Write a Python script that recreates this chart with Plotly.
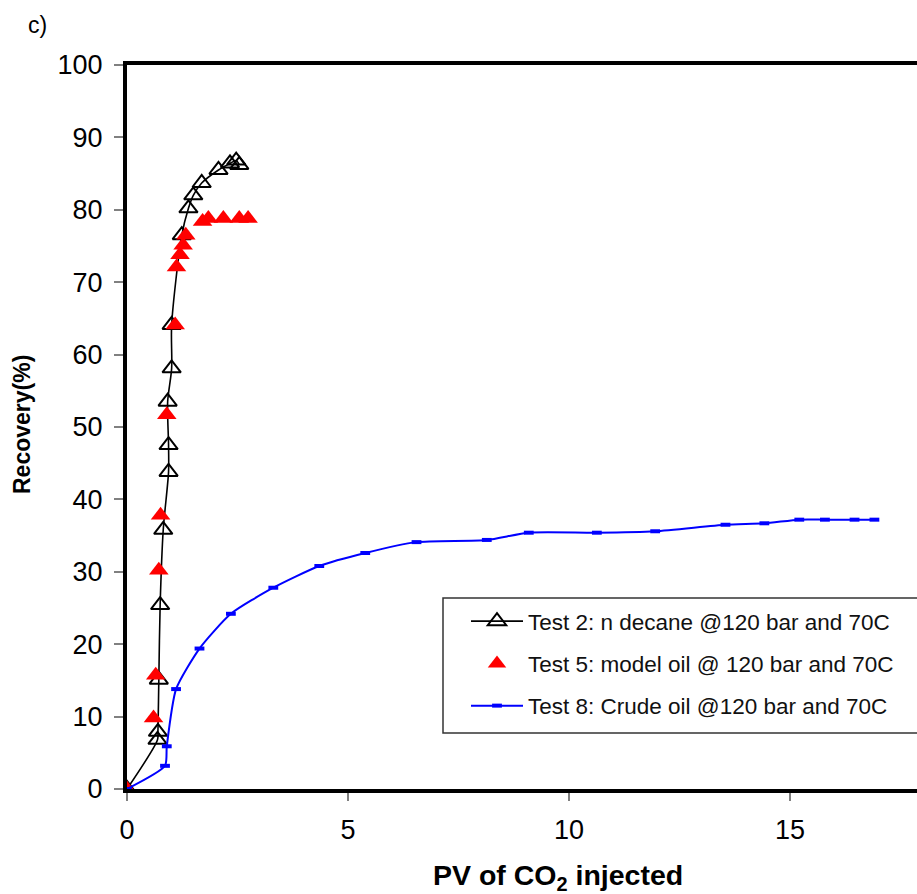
import plotly.graph_objects as go

# Test 2: n-decane at 120 bar and 70C
test2_pv = [0, 0.69, 0.70, 0.72, 0.75, 0.82, 0.94, 0.94, 0.92, 1.01, 1.01,
            1.24, 1.39, 1.50, 1.69, 2.07, 2.33, 2.47, 2.54]
test2_rec = [0, 6.8, 7.9, 15.1, 25.4, 35.8, 43.8, 47.5, 53.5, 58.1, 64.1,
             76.5, 80.2, 82.0, 83.7, 85.5, 86.4, 86.8, 86.2]

# Test 5: model oil at 120 bar and 70C
test5_pv = [0, 0.60, 0.65, 0.72, 0.76, 0.90, 1.09, 1.12, 1.20, 1.27, 1.33,
            1.71, 1.84, 2.18, 2.54, 2.74]
test5_rec = [0, 9.8, 15.7, 30.2, 37.8, 51.7, 64.1, 72.1, 73.8, 75.1, 76.5,
             78.4, 78.8, 78.8, 78.8, 78.8]

# Test 8: crude oil at 120 bar and 70C
test8_pv = [0, 0.86, 0.90, 1.11, 1.64, 2.35, 3.31, 4.35, 5.39, 6.55, 8.14,
            9.09, 10.63, 11.95, 13.54, 14.42, 15.21, 15.79, 16.46, 16.91]
test8_rec = [0, 3.2, 5.9, 13.8, 19.4, 24.2, 27.8, 30.8, 32.6, 34.1, 34.4,
             35.4, 35.4, 35.6, 36.5, 36.7, 37.2, 37.2, 37.2, 37.2]

names = ["Test 2: n decane @120 bar and 70C",
         "Test 5: model oil @ 120 bar and 70C",
         "Test 8: Crude oil @120 bar and 70C"]

x_ticks = [0, 5, 10, 15]
y_ticks = list(range(0, 101, 10))

FONT = "Arial, 'Liberation Sans', sans-serif"

fig = go.Figure()

fig.add_trace(go.Scatter(
    x=test2_pv, y=test2_rec, name=names[0], mode="lines+markers",
    line=dict(color="black", width=1.6, shape="spline", smoothing=0.8),
    marker=dict(symbol="triangle-up-open", size=16, color="black",
                line=dict(color="black", width=2)),
    legendgroup="a",
))
fig.add_trace(go.Scatter(
    x=test5_pv, y=test5_rec, name=names[1], mode="markers",
    marker=dict(symbol="triangle-up", size=17, color="#FF0000",
                line=dict(width=0)),
    legendgroup="b",
))
fig.add_trace(go.Scatter(
    x=test8_pv, y=test8_rec, name=names[2], mode="lines+markers",
    line=dict(color="#0000FF", width=2, shape="spline", smoothing=0.6),
    marker=dict(symbol="line-ew-open", size=7, color="#0000FF",
                line=dict(color="#0000FF", width=4)),
    legendgroup="c",
))

W, H = 917, 894
L, T, B = 127, 65, 105
plot_w = W - L
plot_h = H - T - B
px_per_unit = 44.2
x_max = plot_w / px_per_unit

def px_x(p):
    return (p - L) / plot_w

def px_y(p):
    return (H - B - p) / plot_h

fig.update_layout(
    width=W, height=H,
    margin=dict(l=L, r=0, t=T, b=B, pad=0),
    paper_bgcolor="white", plot_bgcolor="white",
    font=dict(family=FONT, color="black"),
    showlegend=True,
    legend=dict(
        x=px_x(466), y=px_y(600), xanchor="left", yanchor="top",
        bgcolor="rgba(255,255,255,0)", borderwidth=0,
        font=dict(size=22.5, family=FONT, color="#111111"),
        itemwidth=52, tracegroupgap=10, traceorder="grouped",
    ),
    xaxis=dict(
        range=[0, x_max], tickvals=x_ticks, ticktext=[str(v) for v in x_ticks],
        showgrid=False, zeroline=False,
        showline=True, linecolor="black", linewidth=4, mirror=True,
        ticks="outside", ticklen=8, tickwidth=2, tickcolor="#808080",
        tickfont=dict(size=27, family=FONT), ticklabelstandoff=6,
    ),
    yaxis=dict(
        range=[0, 100], tickvals=y_ticks, ticktext=[str(v) for v in y_ticks],
        showgrid=False, zeroline=False,
        showline=True, linecolor="black", linewidth=4, mirror=False,
        ticks="outside", ticklen=9, tickwidth=2, tickcolor="#808080",
        tickfont=dict(size=27, family=FONT), ticklabelstandoff=6,
    ),
    shapes=[dict(
        type="rect", xref="paper", yref="paper",
        x0=px_x(443), x1=px_x(930), y0=px_y(733), y1=px_y(598),
        line=dict(color="#333333", width=1.5), fillcolor="rgba(0,0,0,0)",
        layer="below",
    )],
    annotations=[
        dict(text="c)", xref="paper", yref="paper", x=px_x(26), y=px_y(25),
             xanchor="left", yanchor="middle", showarrow=False,
             font=dict(size=23, family=FONT)),
        dict(text="<b>Recovery(%)</b>", xref="paper", yref="paper",
             x=px_x(22), y=px_y(425), xanchor="center", yanchor="middle",
             textangle=-90, showarrow=False, font=dict(size=23, family=FONT)),
        dict(text="<b>PV of CO<sub>2</sub> injected</b>", xref="paper", yref="paper",
             x=px_x(558), y=px_y(877), xanchor="center", yanchor="middle",
             showarrow=False, font=dict(size=28.5, family=FONT)),
    ],
)

fig.write_html("out.html")
